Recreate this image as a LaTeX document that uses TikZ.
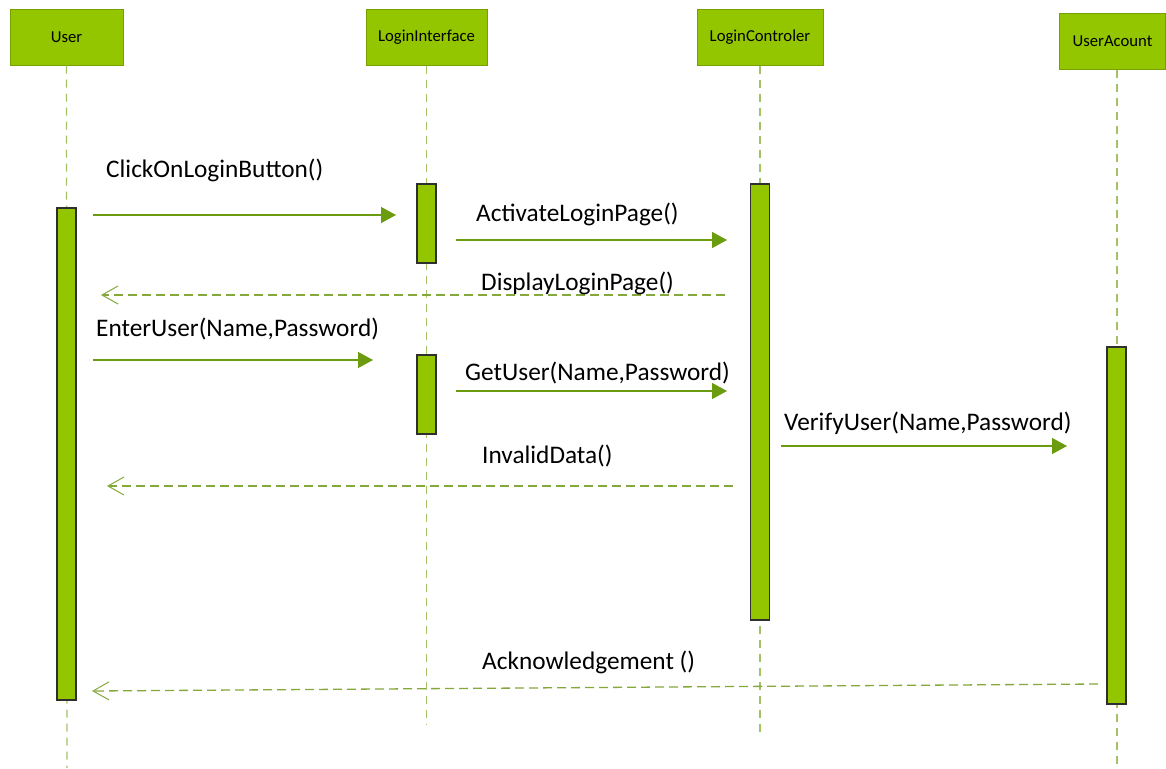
\documentclass[tikz,border=0pt]{standalone}
\usepackage{fontspec}
\setmainfont{Carlito}
\usetikzlibrary{arrows.meta}
\definecolor{hdrfill}{HTML}{94C600}
\definecolor{hdrline}{HTML}{76A000}
\definecolor{msgline}{HTML}{6B9B0E}
\definecolor{lifeline}{HTML}{A3C266}
\definecolor{retline}{HTML}{84A83C}
\definecolor{barline}{HTML}{2F2F2F}
\tikzset{
  hdr/.style={draw=hdrline, line width=1pt, fill=hdrfill, minimum height=55pt, inner sep=0pt, font=\fontsize{16.7}{19}\selectfont},
  actbar/.style={draw=barline, line width=1.2pt, fill=hdrfill, minimum width=19pt, inner sep=0pt},
  life/.style={draw=lifeline, line width=1.3pt, dash pattern=on 8pt off 6pt},
  call/.style={draw=msgline, line width=1.3pt, -{Triangle[length=15pt,width=16pt]}},
  reply/.style={draw=retline, line width=1.3pt, dash pattern=on 9pt off 5pt, -{Straight Barb[length=16pt,width=18pt,line width=1pt]}},
  lbl/.style={anchor=base west, inner sep=0pt, font=\fontsize{25.3}{29}\selectfont}
}
\begin{document}
\begin{tikzpicture}[x=1pt,y=-1pt]
\useasboundingbox (0,0) rectangle (1166,768);
% headers
\node[hdr, minimum width=113pt] (user) at (66.5,37.5) {User};
\node[hdr, minimum width=121pt] (li) at (426.5,37.5) {LoginInterface};
\node[hdr, minimum width=126pt] (lc) at (760,37.5) {LoginControler};
\node[hdr, minimum width=106pt] (ua) at (1112.5,41.5) {UserAcount};
% lifeline ends
\coordinate (userend) at (67,768);
\coordinate (liend) at (426.5,725);
\coordinate (lcend) at (760,732);
\coordinate (uaend) at (1117,768);
\draw[life] (user.south) -- (userend);
\draw[life] (li.south) -- (liend);
\draw[life] (lc.south) -- (lcend);
\draw[life] (ua.south -| uaend) -- (uaend);
% activation bars
\node[actbar, minimum height=492pt] (ubar) at (66.5,454) {};
\node[actbar, minimum height=79pt] (libar1) at (426.5,223.5) {};
\node[actbar, minimum height=79pt] (libar2) at (426.5,394.5) {};
\node[actbar, minimum height=436pt] (lcbar) at (760,402) {};
\node[actbar, minimum height=357pt] (uabar) at (1116.5,525.5) {};
% message end points
\coordinate (m1s) at (93,215);   \coordinate (m1e) at (396,215);
\coordinate (m2s) at (456,240);  \coordinate (m2e) at (727,240);
\coordinate (m3s) at (725,295);  \coordinate (m3e) at (101,295);
\coordinate (m4s) at (93,360);   \coordinate (m4e) at (373,360);
\coordinate (m5s) at (456,391);  \coordinate (m5e) at (727,391);
\coordinate (m6s) at (781,446);  \coordinate (m6e) at (1067,446);
\coordinate (m7s) at (733,486);  \coordinate (m7e) at (107,486);
\coordinate (m8s) at (1098,684); \coordinate (m8e) at (92,691);
\draw[call] (m1s) -- (m1e);
\draw[call] (m2s) -- (m2e);
\draw[reply] (m3s) -- (m3e);
\draw[call] (m4s) -- (m4e);
\draw[call] (m5s) -- (m5e);
\draw[call] (m6s) -- (m6e);
\draw[reply] (m7s) -- (m7e);
\draw[reply] (m8s) -- (m8e);
% labels
\node[lbl] (t1) at (106,177) {ClickOnLoginButton()};
\node[lbl] (t2) at (476,221) {ActivateLoginPage()};
\node[lbl] (t3) at (481,290) {DisplayLoginPage()};
\node[lbl] (t4) at (96,336) {EnterUser(Name,Password)};
\node[lbl] (t5) at (465,380) {GetUser(Name,Password)};
\node[lbl] (t6) at (784,430) {VerifyUser(Name,Password)};
\node[lbl] (t7) at (482,463) {InvalidData()};
\node[lbl] (t8) at (482,669) {Acknowledgement ()};
\end{tikzpicture}
\end{document}
